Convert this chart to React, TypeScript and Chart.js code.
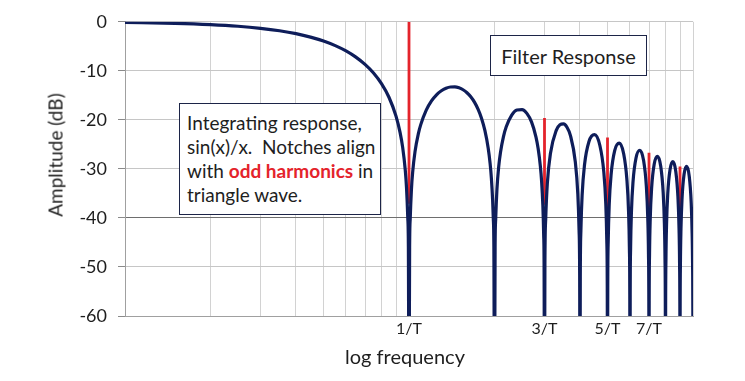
import React, { useEffect, useRef } from 'react';
import { Chart, registerables } from 'chart.js';
Chart.register(...registerables);

// Filter response |sin(x)/x| in dB (frequency in units of 1/T)
const responseFreq = [
  0.1, 0.15, 0.2, 0.25, 0.3, 0.35, 0.4, 0.45, 0.5, 0.55, 0.6, 0.65, 0.7, 0.75, 0.8, 0.85, 0.9, 0.93, 0.95, 0.97, 0.98, 0.99, 0.995, 1,
  1.005, 1.01, 1.02, 1.03, 1.05, 1.08, 1.1, 1.15, 1.2, 1.25, 1.3, 1.35, 1.4, 1.45, 1.5, 1.55, 1.6, 1.65, 1.7, 1.75, 1.8, 1.85, 1.9, 1.93, 1.95, 1.97, 1.98, 1.99, 2,
  2.01, 2.02, 2.04, 2.07, 2.1, 2.15, 2.2, 2.3, 2.4, 2.5, 2.6, 2.7, 2.8, 2.85, 2.9, 2.93, 2.96, 2.98, 2.99, 3,
  3.01, 3.03, 3.07, 3.15, 3.3, 3.4, 3.5, 3.6, 3.7, 3.85, 3.93, 3.97, 3.99, 4,
  4.01, 4.03, 4.07, 4.15, 4.3, 4.5, 4.7, 4.85, 4.93, 4.97, 4.99, 5,
  5.01, 5.03, 5.07, 5.15, 5.3, 5.5, 5.7, 5.85, 5.93, 5.97, 5.99, 6,
  6.01, 6.03, 6.07, 6.15, 6.3, 6.5, 6.7, 6.85, 6.93, 6.97, 6.99, 7,
  7.01, 7.03, 7.07, 7.15, 7.3, 7.5, 7.7, 7.85, 7.93, 7.97, 7.99, 8,
  8.01, 8.03, 8.07, 8.15, 8.3, 8.5, 8.7, 8.85, 8.93, 8.97, 8.99, 9,
  9.01, 9.03, 9.07, 9.15, 9.3, 9.5, 9.7, 9.85, 9.93, 9.97, 9.99, 10,
];
const responseDb = [
  -0.14, -0.32, -0.58, -0.91, -1.33, -1.83, -2.42, -3.12, -3.92, -4.86, -5.94, -7.2, -8.69, -10.45, -12.62, -15.39, -19.23, -22.54, -25.61, -30.21, -33.81, -39.91, -45.98, -80,
  -46.06, -40.09, -34.16, -30.73, -26.48, -22.7, -20.97, -18.02, -16.14, -14.89, -14.06, -13.55, -13.3, -13.28, -13.47, -13.86, -14.46, -15.3, -16.39, -17.81, -19.66, -22.15, -25.72, -28.88, -31.86, -36.36, -39.92, -45.98, -80,
  -46.06, -40.09, -34.18, -29.49, -26.59, -23.45, -21.41, -19.02, -17.98, -17.9, -18.68, -20.41, -23.5, -25.9, -29.39, -32.51, -37.41, -43.47, -49.51, -80,
  -49.57, -40.1, -32.91, -26.77, -22.15, -21.01, -20.82, -21.51, -23.15, -28.51, -35.06, -42.45, -52.02, -80,
  -52.06, -42.58, -35.36, -29.16, -24.45, -23.01, -25.23, -30.52, -37.03, -44.4, -53.96, -80,
  -54.0, -44.5, -37.27, -31.04, -26.27, -24.75, -26.9, -32.15, -38.63, -45.99, -55.55, -80,
  -55.58, -46.08, -38.83, -32.58, -27.77, -26.2, -28.31, -33.52, -39.98, -47.34, -56.89, -80,
  -56.91, -47.41, -40.16, -33.89, -29.05, -27.44, -29.51, -34.7, -41.15, -48.5, -58.05, -80,
  -58.07, -48.57, -41.31, -35.03, -30.17, -28.53, -30.57, -35.74, -42.19, -49.53, -59.08, -80,
  -59.1, -49.59, -42.32, -36.03, -31.15, -29.5, -31.52, -36.67, -43.11, -50.45, -60.0, -80,
];

// Odd harmonics of the triangle wave (red lines)
const harmonicFreq = [1, 3, 5, 7, 9];
const harmonicTopDb = [0, -19.6, -23.6, -26.7, -29.5];
const harmonicBottomDb = [-37.1, -37.3, -37.8, -37.8, -38.9];

// Axes
const gridFreq = [0.1, 0.2, 0.3, 0.4, 0.5, 0.6, 0.7, 0.8, 0.9, 1, 2, 3, 4, 5, 6, 7, 8, 9, 10];
const xTickValues = [1, 3, 5, 7];
const xTickLabels = ['1/T', '3/T', '5/T', '7/T'];
const yTicks = [0, -10, -20, -30, -40, -50, -60];

const NAVY = '#0e1d5a';
const RED = '#e4232b';
const TEXT = '#1e1e1e';
const FONT = 'Lato, "Open Sans", sans-serif';

export default function App() {
  const ref = useRef<HTMLCanvasElement>(null);
  useEffect(() => {
    const chart = new Chart(ref.current as HTMLCanvasElement, {
      type: 'line',
      data: {
        datasets: [
          {
            data: responseFreq.map((f, i) => ({ x: f, y: responseDb[i] })),
            borderColor: NAVY,
            borderWidth: 3.2,
            pointRadius: 0,
            cubicInterpolationMode: 'monotone',
            fill: false,
          },
          ...harmonicFreq.map((f, i) => ({
            data: [
              { x: f, y: harmonicTopDb[i] },
              { x: f, y: harmonicBottomDb[i] },
            ],
            borderColor: RED,
            borderWidth: 2.8,
            pointRadius: 0,
            fill: false,
          })),
        ],
      },
      options: {
        animation: false,
        responsive: false,
        maintainAspectRatio: false,
        layout: { padding: { left: 0, right: 52, top: 21, bottom: 0 } },
        plugins: { legend: { display: false }, tooltip: { enabled: false } },
        scales: {
          x: {
            type: 'logarithmic',
            min: 0.1,
            max: 10,
            afterBuildTicks: (s: any) => {
              s.ticks = gridFreq.map((v) => ({ value: v }));
            },
            afterFit: (s: any) => {
              s.height = 65;
            },
            ticks: {
              autoSkip: false,
              maxRotation: 0,
              minRotation: 0,
              padding: 3,
              color: TEXT,
              font: { family: FONT, size: 16 },
              callback: (v: any) => {
                const k = xTickValues.indexOf(Number(v));
                return k >= 0 ? xTickLabels[k] : '';
              },
            },
            grid: { color: '#d2d2d2', lineWidth: 1, drawTicks: false },
            border: { color: '#a0a0a0' },
          },
          y: {
            min: -60,
            max: 0,
            afterBuildTicks: (s: any) => {
              s.ticks = yTicks.map((v) => ({ value: v }));
            },
            afterFit: (s: any) => {
              s.width = 125;
            },
            ticks: {
              padding: 11,
              color: TEXT,
              font: { family: FONT, size: 18 },
            },
            grid: {
              color: (ctx: any) => (ctx.tick && ctx.tick.value === -40 ? '#6e6e6e' : '#c6c6c6'),
              tickColor: '#8a8a8a',
              tickLength: 7,
              lineWidth: 1,
            },
            border: { color: '#a0a0a0' },
          },
        },
      },
    });
    return () => chart.destroy();
  }, []);

  const boxBorder = '1.5px solid #1c2447';
  return (
    <div style={{ position: 'absolute', left: 0, top: 0, width: 745, height: 381, background: '#fff', fontFamily: FONT }}>
      <canvas ref={ref} width={745} height={381} style={{ position: 'absolute', left: 0, top: 0, width: 745, height: 381 }} />
      <div
        style={{
          position: 'absolute', left: 55, top: 155, transform: 'translate(-50%, -50%) rotate(-90deg)',
          fontSize: 19, color: TEXT, whiteSpace: 'nowrap',
        }}
      >
        Amplitude (dB)
      </div>
      <div
        style={{
          position: 'absolute', left: 405, top: 356, transform: 'translate(-50%, -50%)',
          fontSize: 20, color: TEXT, whiteSpace: 'nowrap',
        }}
      >
        log frequency
      </div>
      <div
        style={{
          position: 'absolute', left: 490, top: 35, width: 157, height: 41, boxSizing: 'border-box',
          border: boxBorder, background: '#fff', display: 'flex', alignItems: 'center', justifyContent: 'center',
          fontSize: 20, color: TEXT, whiteSpace: 'nowrap',
        }}
      >
        Filter Response
      </div>
      <div
        style={{
          position: 'absolute', left: 179, top: 103, width: 202, height: 112, boxSizing: 'border-box',
          border: boxBorder, background: '#fff', padding: '7px 0 0 7px',
          fontSize: 19, lineHeight: '24px', color: TEXT, whiteSpace: 'nowrap',
        }}
      >
        Integrating response,<br />
        sin(x)/x.&nbsp; Notches align<br />
        with <span style={{ color: RED, fontWeight: 'bold' }}>odd harmonics</span> in<br />
        triangle wave.
      </div>
    </div>
  );
}
